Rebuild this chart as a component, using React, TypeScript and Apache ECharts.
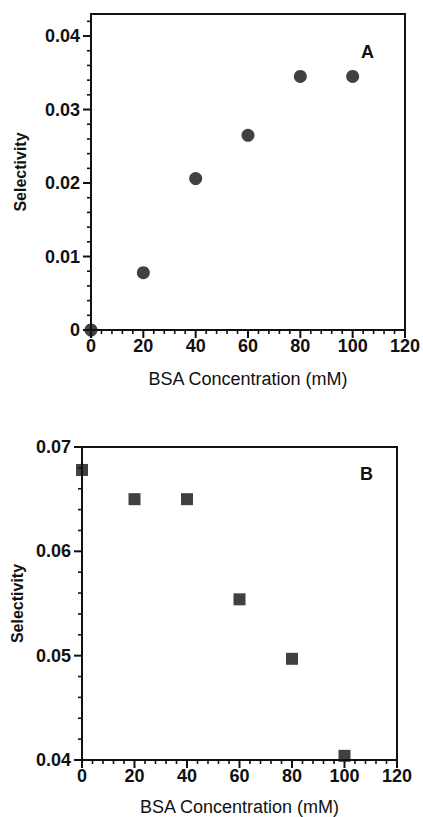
import React, { useEffect, useRef } from "react";
import * as echarts from "echarts";

const xValues = [0, 20, 40, 60, 80, 100];
const selectivityA = [0, 0.0078, 0.0206, 0.0265, 0.0345, 0.0345];
const selectivityB = [0.0678, 0.065, 0.065, 0.0554, 0.0497, 0.0404];
const yMajorA = [0, 0.01, 0.02, 0.03, 0.04];
const yMinorA = [0.002, 0.004, 0.006, 0.008, 0.012, 0.014, 0.016, 0.018, 0.022, 0.024, 0.026, 0.028, 0.032, 0.034, 0.036, 0.038, 0.042];
const yMajorB = [0.04, 0.05, 0.06, 0.07];
const yMinorB = [0.042, 0.044, 0.046, 0.048, 0.052, 0.054, 0.056, 0.058, 0.062, 0.064, 0.066, 0.068];
const xMajor = [0, 20, 40, 60, 80, 100, 120];
const xMinor = [4, 8, 12, 16, 24, 28, 32, 36, 44, 48, 52, 56, 64, 68, 72, 76, 84, 88, 92, 96, 104, 108, 112, 116];
const xTitle = "BSA Concentration (mM)";
const yTitle = "Selectivity";
const panelLabels = ["A", "B"];

const INK = "#111";
const FONT = "Liberation Sans";
const MAJOR = 8;
const MINOR = 4;

export default function App() {
  const ref = useRef<HTMLDivElement>(null);
  useEffect(() => {
    document.body.style.margin = "0";
    const chart = echarts.init(ref.current!, null, { renderer: "svg" });
    const labelStyle = { color: INK, fontFamily: FONT, fontSize: 18, fontWeight: "bold" as const };
    const axisLine = { show: true, onZero: false, lineStyle: { color: INK, width: 2 } };
    const xAxisBase = (gridIndex: number, gap: number) => ({
      type: "value",
      gridIndex,
      min: 0,
      max: 120,
      interval: 20,
      axisLine,
      axisTick: { show: false },
      minorTick: { show: false },
      splitLine: { show: false },
      axisLabel: { ...labelStyle, margin: 7 },
      name: xTitle,
      nameLocation: "middle",
      nameGap: gap,
      nameTextStyle: { color: INK, fontFamily: FONT, fontSize: 18 },
    });
    const data = (ys: number[]) => xValues.map((x, i) => [x, ys[i]]);
    const tickItems = (yMaj: number[], yMin: number[]) => [
      ...xMajor.map((v) => [v, 0, MAJOR]),
      ...xMinor.map((v) => [v, 0, MINOR]),
      ...yMaj.map((v) => [v, 1, MAJOR]),
      ...yMin.map((v) => [v, 1, MINOR]),
    ];
    const tickSeries = (axisIndex: number, yBase: number, items: number[][]) => ({
      type: "custom",
      xAxisIndex: axisIndex,
      yAxisIndex: axisIndex,
      clip: false,
      silent: true,
      z: 5,
      data: items,
      renderItem: (params: any, api: any) => {
        const v = api.value(0);
        const kind = api.value(1);
        const len = api.value(2);
        const w = len > 5 ? 2 : 1.6;
        if (kind === 0) {
          const p = api.coord([v, yBase]);
          return { type: "line", shape: { x1: p[0], y1: p[1], x2: p[0], y2: p[1] + len }, style: { stroke: INK, lineWidth: w } };
        }
        const p = api.coord([0, v]);
        return { type: "line", shape: { x1: p[0] - len, y1: p[1], x2: p[0], y2: p[1] }, style: { stroke: INK, lineWidth: w } };
      },
    });
    const titleStyle = { color: INK, fontFamily: FONT, fontSize: 18, fontWeight: "bold" as const };
    chart.setOption({
      animation: false,
      backgroundColor: "#fff",
      title: [
        { text: panelLabels[0], left: 361, top: 43, padding: 0, textStyle: titleStyle },
        { text: panelLabels[1], left: 360, top: 465, padding: 0, textStyle: titleStyle },
      ],
      grid: [
        { left: 91, right: 16, top: 14, height: 316, show: true, borderColor: INK, borderWidth: 2 },
        { left: 82, right: 26, top: 447, height: 319, show: true, borderColor: INK, borderWidth: 2 },
      ],
      xAxis: [xAxisBase(0, 40), xAxisBase(1, 38)],
      yAxis: [
        {
          type: "value",
          gridIndex: 0,
          min: 0,
          max: 0.043,
          axisLine,
          axisTick: { show: false },
          axisLabel: { ...labelStyle, margin: 11, customValues: yMajorA },
          splitLine: { show: false },
          name: yTitle,
          nameLocation: "middle",
          nameGap: 63,
          nameTextStyle: { color: INK, fontFamily: FONT, fontSize: 16, fontWeight: "bold" },
        },
        {
          type: "value",
          gridIndex: 1,
          min: 0.04,
          max: 0.07,
          interval: 0.01,
          axisLine,
          axisTick: { show: false },
          minorTick: { show: false },
          axisLabel: { ...labelStyle, margin: 11, formatter: (v: number) => v.toFixed(2) },
          splitLine: { show: false },
          name: yTitle,
          nameLocation: "middle",
          nameGap: 57,
          nameTextStyle: { color: INK, fontFamily: FONT, fontSize: 16, fontWeight: "bold" },
        },
      ],
      series: [
        tickSeries(0, 0, tickItems(yMajorA, yMinorA)),
        tickSeries(1, 0.04, tickItems(yMajorB, yMinorB)),
        {
          type: "scatter",
          xAxisIndex: 0,
          yAxisIndex: 0,
          data: data(selectivityA),
          symbol: "circle",
          symbolSize: 13,
          clip: false,
          z: 10,
          itemStyle: { color: INK },
        },
        {
          type: "scatter",
          xAxisIndex: 1,
          yAxisIndex: 1,
          data: data(selectivityB),
          symbol: "rect",
          symbolSize: 12,
          clip: false,
          z: 10,
          itemStyle: { color: INK },
        },
      ],
    });
    return () => chart.dispose();
  }, []);
  return <div ref={ref} style={{ position: "absolute", left: 0, top: 0, width: 423, height: 817 }} />;
}
